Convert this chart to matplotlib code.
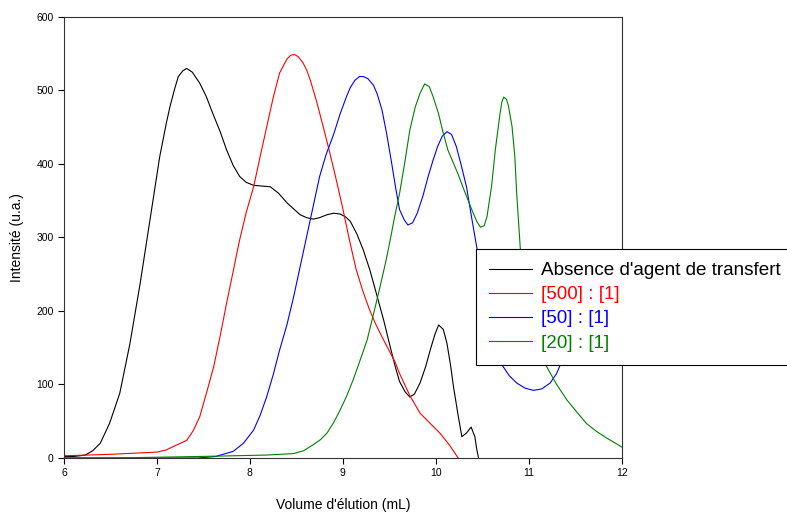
import matplotlib
matplotlib.use("Agg")
import matplotlib.pyplot as plt

plt.rcParams['font.family'] = ['Liberation Sans', 'DejaVu Sans']

# Absence d'agent de transfert
x_black = [6.0, 6.1, 6.17, 6.23, 6.31, 6.39, 6.49, 6.60, 6.71, 6.82, 6.93, 7.03, 7.10, 7.14, 7.19, 7.23,
           7.28, 7.32, 7.38, 7.46, 7.53, 7.60, 7.68, 7.75, 7.82, 7.89, 7.96, 8.04, 8.13, 8.22, 8.31,
           8.40, 8.47, 8.54, 8.61, 8.68, 8.75, 8.83, 8.90, 8.97, 9.03, 9.08, 9.15, 9.22, 9.29, 9.36,
           9.44, 9.51, 9.56, 9.61, 9.67, 9.72, 9.77, 9.83, 9.89, 9.94, 9.99, 10.03, 10.08, 10.12, 10.16,
           10.19, 10.24, 10.28, 10.33, 10.38, 10.42, 10.44, 10.46]
y_black = [2, 2, 3, 4, 10, 20, 47, 88, 156, 238, 328, 410, 455, 478, 502, 519,
           527, 530, 525, 510, 492, 469, 444, 419, 398, 383, 375, 371, 370, 369, 360,
           347, 339, 331, 327, 325, 327, 331, 333, 332, 328, 322, 305, 283, 256, 224,
           187, 151, 126, 104, 90, 83, 87, 102, 124, 147, 168, 181, 175, 156, 125,
           97, 58, 29, 34, 42, 29, 12, 0]

# [500] : [1]
x_red = [6.0, 6.5, 7.0, 7.1, 7.2, 7.32, 7.39, 7.46, 7.53, 7.61, 7.68, 7.75, 7.82, 7.89, 7.96, 8.04,
         8.11, 8.18, 8.25, 8.32, 8.40, 8.44, 8.48, 8.52, 8.57, 8.61, 8.65, 8.72, 8.79, 8.86, 8.93,
         9.00, 9.07, 9.14, 9.21, 9.28, 9.35, 9.42, 9.49, 9.56, 9.61, 9.72, 9.83, 9.94, 10.05, 10.15, 10.24]
y_red = [3, 5, 8, 11, 17, 24, 37, 56, 87, 124, 166, 211, 254, 297, 334, 369,
         410, 450, 490, 524, 543, 548, 549, 546, 538, 528, 514, 484, 450, 415, 378,
         339, 297, 258, 229, 204, 183, 165, 148, 131, 115, 85, 61, 47, 33, 17, 0]

# [50] : [1]
x_blue = [6.0, 6.5, 7.0, 7.44, 7.63, 7.82, 7.93, 8.04, 8.11, 8.18, 8.25, 8.32, 8.40, 8.47, 8.54,
          8.61, 8.68, 8.75, 8.82, 8.90, 8.97, 9.04, 9.08, 9.13, 9.18, 9.22, 9.27, 9.33, 9.37, 9.42,
          9.47, 9.52, 9.57, 9.61, 9.66, 9.70, 9.75, 9.80, 9.86, 9.92, 9.97, 10.02, 10.07, 10.12, 10.17,
          10.22, 10.27, 10.33, 10.38, 10.44, 10.55, 10.64, 10.71, 10.79, 10.87, 10.96, 11.05, 11.14,
          11.23, 11.30, 11.34, 11.40, 11.46]
y_blue = [0, 0, 0, 0, 2, 9, 20, 38, 58, 83, 113, 147, 182, 219, 260,
          301, 342, 383, 413, 440, 468, 492, 504, 514, 519, 519, 516, 507, 495, 474,
          442, 405, 366, 338, 324, 317, 320, 333, 356, 384, 405, 424, 438, 444, 440,
          424, 400, 369, 331, 287, 215, 160, 127, 112, 102, 95, 92, 94, 102, 115, 127, 150, 180]

# [20] : [1]
x_green = [6.0, 6.5, 7.0, 7.44, 7.82, 8.18, 8.47, 8.58, 8.68, 8.76, 8.83, 8.90, 8.97, 9.04, 9.11,
           9.18, 9.26, 9.33, 9.40, 9.46, 9.51, 9.56, 9.61, 9.67, 9.72, 9.78, 9.83, 9.88, 9.93, 9.97,
           10.03, 10.08, 10.13, 10.19, 10.24, 10.29, 10.34, 10.39, 10.44, 10.48, 10.52, 10.55, 10.60,
           10.64, 10.69, 10.71, 10.73, 10.76, 10.78, 10.82, 10.85, 10.87, 10.91, 10.98, 11.05, 11.12,
           11.18, 11.30, 11.41, 11.52, 11.62, 11.73, 11.84, 11.92, 12.0]
y_green = [0, 0, 1, 2, 3, 4, 6, 10, 18, 25, 34, 48, 65, 84, 106,
           131, 160, 196, 233, 266, 297, 330, 360, 405, 446, 478, 496, 509, 505, 492,
           468, 442, 419, 401, 386, 369, 353, 337, 322, 314, 316, 328, 370,
           419, 468, 484, 491, 488, 480, 451, 410, 360, 283, 230, 190, 155,
           127, 100, 79, 62, 47, 36, 27, 21, 15]

labels = ["Absence d'agent de transfert", "[500] : [1]", "[50] : [1]", "[20] : [1]"]
colors = ['black', 'red', 'blue', 'green']

fig = plt.figure(figsize=(7.87, 5.12), dpi=100)
ax = fig.add_axes([0.0813, 0.1055, 0.7087, 0.8613])

series = [(x_black, y_black), (x_red, y_red), (x_blue, y_blue), (x_green, y_green)]
for (xs, ys), lab, col in zip(series, labels, colors):
    ax.plot(xs, ys, color=col, linewidth=0.8, label=lab)

ax.set_xlim(6, 12)
ax.set_ylim(0, 600)
ax.set_xticks([6, 7, 8, 9, 10, 11, 12])
ax.set_yticks([0, 100, 200, 300, 400, 500, 600])
ax.tick_params(direction='out', length=4, width=0.8, labelsize=7.5, colors='black')
for sp in ax.spines.values():
    sp.set_linewidth(0.8)
    sp.set_color('#333333')

ax.set_xlabel("Volume d'élution (mL)", fontsize=10, labelpad=14)
ax.set_ylabel("Intensité (u.a.)", fontsize=10, labelpad=9)

# legende qui deborde a droite de la figure, comme dans l'original
leg = ax.legend(loc='upper left', bbox_to_anchor=(476 / 787, 1 - 249 / 512),
                bbox_transform=fig.transFigure, fontsize=13.6, frameon=True, fancybox=False,
                edgecolor='black', framealpha=1, handlelength=2.25, handletextpad=0.5,
                labelspacing=0.36, borderpad=0.7, borderaxespad=0)
leg.get_frame().set_linewidth(0.8)
for txt, col in zip(leg.get_texts(), colors):
    txt.set_color(col)

fig.savefig("out.png", dpi=100)
